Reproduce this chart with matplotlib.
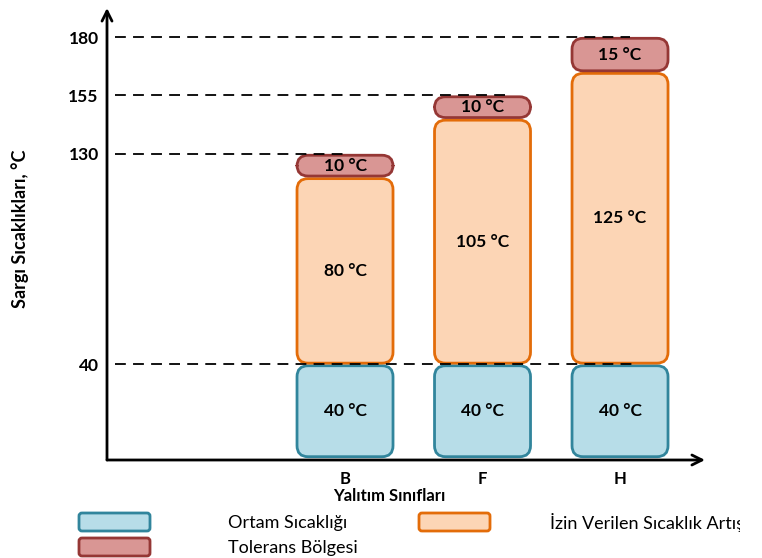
import matplotlib
matplotlib.use("Agg")
import matplotlib.pyplot as plt
from matplotlib.patches import FancyBboxPatch
from matplotlib.transforms import Bbox

plt.rcParams['font.family'] = ['Lato', 'DejaVu Sans']

# ---- data ----
categories = ['B', 'F', 'H']
ambient = [40, 40, 40]            # Ortam Sıcaklığı
allowed_rise = [80, 105, 125]     # İzin Verilen Sıcaklık Artışı
tolerance = [10, 10, 15]          # Tolerans Bölgesi
ytick_values = [40, 130, 155, 180]
series_labels = ['Ortam Sıcaklığı', 'İzin Verilen Sıcaklık Artışı', 'Tolerans Bölgesi']
ylabel = 'Sargı Sıcaklıkları, °C'
xlabel = 'Yalıtım Sınıfları'

fills = ['#b7dde8', '#fcd5b5', '#d99694']
edges = ['#31859c', '#e36c09', '#953735']

W, H = 762, 558
fig = plt.figure(figsize=(W / 100, H / 100), dpi=100)
ax = fig.add_axes([107 / W, 98 / H, 598 / W, 452 / H])
x0, x1 = -1.731, 2.618
y0, y1 = -0.86, 192.4
ax.set_xlim(x0, x1)
ax.set_ylim(y0, y1)
px_x = 598 / (x1 - x0)
px_y = 452 / (y1 - y0)
aspect = px_x / px_y

for s in ax.spines.values():
    s.set_visible(False)

box_w = 96 / px_x
rad = 11 / px_x
gap = 1.3 / px_y

for i, cat in enumerate(categories):
    base = 0
    for j, vals in enumerate([ambient, allowed_rise, tolerance]):
        v = vals[i]
        p = FancyBboxPatch((i - box_w / 2, base + gap), box_w, v - 2 * gap,
                           boxstyle=f"round,pad=0,rounding_size={rad}",
                           mutation_aspect=aspect, facecolor=fills[j],
                           edgecolor=edges[j], linewidth=2.0, zorder=2)
        ax.add_patch(p)
        ax.text(i, base + v / 2, f"{v} °C", ha='center', va='center',
                fontsize=12.5, fontweight='bold', zorder=4)
        base += v

# dashed guide lines (drawn on top)
line_start = x0 + 8 / px_x
line_ends = {40: 2.1, 130: -0.01, 155: 1.17, 180: 2.07}
for v in ytick_values:
    ax.plot([line_start, line_ends[v]], [v, v], color='black', lw=1.3,
            dashes=(6, 4), zorder=5)

# axes arrows
ax.annotate('', xy=(0, 1), xytext=(0, 0), xycoords='axes fraction',
            arrowprops=dict(arrowstyle='->', lw=2, color='black',
                            shrinkA=0, shrinkB=0, mutation_scale=18))
ax.annotate('', xy=(1, 0), xytext=(0, 0), xycoords='axes fraction',
            arrowprops=dict(arrowstyle='->', lw=2, color='black',
                            shrinkA=0, shrinkB=0, mutation_scale=18))

ax.set_yticks(ytick_values)
ax.set_yticklabels([str(v) for v in ytick_values], fontsize=12.5, fontweight='bold')
ax.tick_params(axis='y', length=0, pad=6)
ax.set_xticks(range(len(categories)))
ax.set_xticklabels(categories, fontsize=12, fontweight='bold')
ax.tick_params(axis='x', length=0, pad=8)

fig.text(20 / W, 1 - 229 / H, ylabel, rotation=90, ha='center', va='center',
         fontsize=13, fontweight='bold')
fig.text(389 / W, 1 - 496 / H, xlabel, ha='center', va='center',
         fontsize=12, fontweight='bold')

# legend (pixel overlay)
lax = fig.add_axes([0, 0, 1, 1])
lax.set_xlim(0, W)
lax.set_ylim(H, 0)
lax.axis('off')
leg_boxes = [(79, 513), (419, 513), (79, 538)]
leg_text = [(228, 523), (550, 523), (228, 548)]
clip = Bbox.from_extents(0, 0, 740, H)
for j in range(3):
    bx, by = leg_boxes[j]
    lax.add_patch(FancyBboxPatch((bx, by), 71, 18,
                                 boxstyle="round,pad=0,rounding_size=3",
                                 facecolor=fills[j], edgecolor=edges[j], linewidth=2.0))
    tx, ty = leg_text[j]
    t = lax.text(tx, ty, series_labels[j], ha='left', va='center', fontsize=13)
    t.set_clip_box(clip)
    t.set_clip_on(True)

fig.savefig('out.png', dpi=100)
